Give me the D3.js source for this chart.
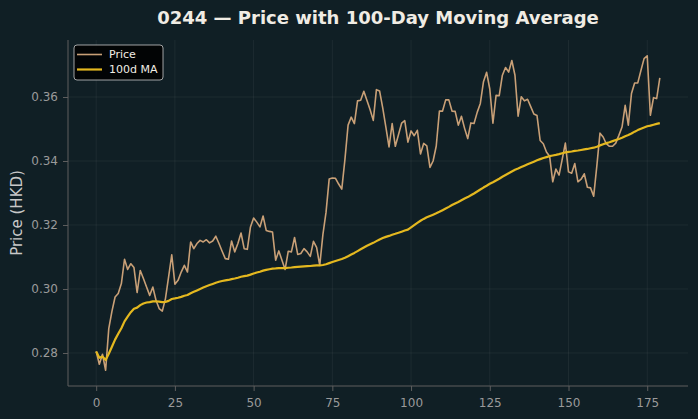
<!DOCTYPE html>
<html lang="en">
<head>
<meta charset="UTF-8">
<title>0244 price with 100-day moving average</title>
<script src="https://cdn.jsdelivr.net/npm/d3@7"></script>
<style>
    html, body { margin: 0; padding: 0; background: #101f25; }
    svg { display: block; font-family: "DejaVu Sans", sans-serif; }
</style>
</head>
<body>
<svg></svg>
<script>
    // DATA: daily close
    const days = d3.range(180);
    const price = [
        0.2805, 0.2765, 0.2796, 0.2746, 0.2876, 0.2930, 0.2975, 0.2986, 0.3017, 0.3093,
        0.3061, 0.3079, 0.3067, 0.2989, 0.3058, 0.3033, 0.3006, 0.2980, 0.3006, 0.2965,
        0.2939, 0.2931, 0.2970, 0.3038, 0.3107, 0.3015, 0.3027, 0.3053, 0.3074, 0.3053,
        0.3147, 0.3126, 0.3142, 0.3152, 0.3147, 0.3154, 0.3144, 0.3150, 0.3165, 0.3142,
        0.3118, 0.3095, 0.3093, 0.3150, 0.3116, 0.3142, 0.3175, 0.3126, 0.3124, 0.3194,
        0.3222, 0.3209, 0.3194, 0.3228, 0.3183, 0.3180, 0.3178, 0.3090, 0.3119, 0.3090,
        0.3061, 0.3118, 0.3116, 0.3161, 0.3108, 0.3111, 0.3126, 0.3116, 0.3102, 0.3149,
        0.3130, 0.3074, 0.3170, 0.3240, 0.3344, 0.3347, 0.3346, 0.3328, 0.3312, 0.3405,
        0.3512, 0.3537, 0.3517, 0.3588, 0.3590, 0.3618, 0.3589, 0.3560, 0.3527, 0.3623,
        0.3619, 0.3566, 0.3506, 0.3444, 0.3517, 0.3446, 0.3482, 0.3518, 0.3526, 0.3459,
        0.3494, 0.3479, 0.3496, 0.3422, 0.3455, 0.3447, 0.3380, 0.3400, 0.3447, 0.3556,
        0.3556, 0.3591, 0.3591, 0.3556, 0.3555, 0.3512, 0.3540, 0.3502, 0.3470, 0.3519,
        0.3517, 0.3552, 0.3580, 0.3648, 0.3677, 0.3625, 0.3518, 0.3605, 0.3604, 0.3668,
        0.3692, 0.3678, 0.3714, 0.3668, 0.3540, 0.3601, 0.3588, 0.3593, 0.3570, 0.3547,
        0.3542, 0.3464, 0.3454, 0.3428, 0.3415, 0.3335, 0.3375, 0.3356, 0.3405, 0.3456,
        0.3366, 0.3362, 0.3392, 0.3335, 0.3343, 0.3360, 0.3318, 0.3316, 0.3290, 0.3385,
        0.3487, 0.3475, 0.3454, 0.3446, 0.3446, 0.3456, 0.3480, 0.3506, 0.3574, 0.3512,
        0.3611, 0.3644, 0.3644, 0.3683, 0.3720, 0.3729, 0.3543, 0.3598, 0.3595, 0.3660
    ];
    const maWindow = 100;
    const xTicks = [0, 25, 50, 75, 100, 125, 150, 175];
    const yTicks = [0.28, 0.30, 0.32, 0.34, 0.36];
    const seriesNames = ["Price", "100d MA"];

    // 100-day rolling mean (min periods = 1), derived from the price series
    const ma = price.map((_, i) => d3.mean(price.slice(Math.max(0, i - maWindow + 1), i + 1)));

    // COLOURS
    const col = {
        bg: "#101f25", price: "#c9a077", ma: "#e4b81f",
        grid: "rgba(255,255,255,0.055)", spine: "#5e5e5e", tick: "#9a9a9a",
        text: "#f0ece4", label: "#c8c8c8"
    };

    // CHART dimensions
    const dim = {width: 698, height: 419};
    const box = {left: 68, right: 688, top: 40, bottom: 386};

    const svg = d3.select("svg")
        .attr("width", dim.width).attr("height", dim.height);

    svg.append("rect")
        .attr("width", dim.width).attr("height", dim.height)
        .attr("fill", col.bg);

    // SCALES (matplotlib-like 5% margins)
    const n = price.length - 1;
    const xScale = d3.scaleLinear()
        .domain([-0.05 * n, n * 1.05])
        .range([box.left, box.right]);

    const lo = d3.min([...price, ...ma]), hi = d3.max([...price, ...ma]);
    const pad = (hi - lo) * 0.05;
    const yScale = d3.scaleLinear()
        .domain([lo - pad, hi + pad])
        .range([box.bottom, box.top]);

    // GRID
    const grid = svg.append("g");
    grid.selectAll(".gx").data(xTicks).join("line")
        .attr("x1", d => xScale(d)).attr("x2", d => xScale(d))
        .attr("y1", box.top).attr("y2", box.bottom)
        .attr("stroke", col.grid);
    grid.selectAll(".gy").data(yTicks).join("line")
        .attr("x1", box.left).attr("x2", box.right)
        .attr("y1", d => yScale(d)).attr("y2", d => yScale(d))
        .attr("stroke", col.grid);

    // AXES
    const xAxis = svg.append("g")
        .attr("transform", `translate(0, ${box.bottom})`)
        .call(d3.axisBottom(xScale).tickValues(xTicks).tickSize(5).tickPadding(7).tickSizeOuter(0));
    const yAxis = svg.append("g")
        .attr("transform", `translate(${box.left}, 0)`)
        .call(d3.axisLeft(yScale).tickValues(yTicks).tickFormat(d3.format(".2f")).tickSize(5).tickPadding(5).tickSizeOuter(0));

    [xAxis, yAxis].forEach(a => {
        a.select(".domain").attr("stroke", col.spine);
        a.selectAll(".tick line").attr("stroke", col.spine);
        a.selectAll(".tick text").attr("fill", col.tick).attr("font-size", 12)
            .attr("font-family", "DejaVu Sans, sans-serif");
    });
    xAxis.select(".domain").attr("d", `M${box.left},0H${box.right}`);
    yAxis.select(".domain").attr("d", `M0,${box.bottom}V${box.top}`);

    // LINES
    const line = d3.line().x((d, i) => xScale(days[i])).y(d => yScale(d));
    svg.append("path").datum(price)
        .attr("d", line).attr("fill", "none")
        .attr("stroke", col.price).attr("stroke-width", 1.6).attr("stroke-linejoin", "round");
    svg.append("path").datum(ma)
        .attr("d", line).attr("fill", "none")
        .attr("stroke", col.ma).attr("stroke-width", 2.2).attr("stroke-linejoin", "round");

    // TITLE and LABEL
    svg.append("text")
        .attr("x", (box.left + box.right) / 2).attr("y", 24)
        .attr("text-anchor", "middle")
        .attr("font-size", 18).attr("font-weight", "bold")
        .attr("fill", col.text)
        .text("0244 — Price with 100-Day Moving Average");

    svg.append("text")
        .attr("transform", `translate(22, ${(box.top + box.bottom) / 2}) rotate(-90)`)
        .attr("text-anchor", "middle")
        .attr("font-size", 15)
        .attr("fill", col.label)
        .text("Price (HKD)");

    // LEGEND
    const legend = svg.append("g").attr("transform", "translate(74, 45)");
    legend.append("rect")
        .attr("width", 89).attr("height", 35).attr("rx", 3)
        .attr("fill", "rgba(0,0,0,0.85)")
        .attr("stroke", "#c8c8c8").attr("stroke-width", 0.8);
    const rows = legend.selectAll(".row").data(seriesNames).join("g")
        .attr("transform", (d, i) => `translate(0, ${9.5 + i * 15})`);
    rows.append("line")
        .attr("x1", 3).attr("x2", 28)
        .attr("stroke", (d, i) => i === 0 ? col.price : col.ma)
        .attr("stroke-width", (d, i) => i === 0 ? 1.6 : 2.2);
    rows.append("text")
        .attr("x", 35).attr("dy", "0.35em")
        .attr("font-size", 11)
        .attr("fill", col.text)
        .text(d => d);
</script>
</body>
</html>
